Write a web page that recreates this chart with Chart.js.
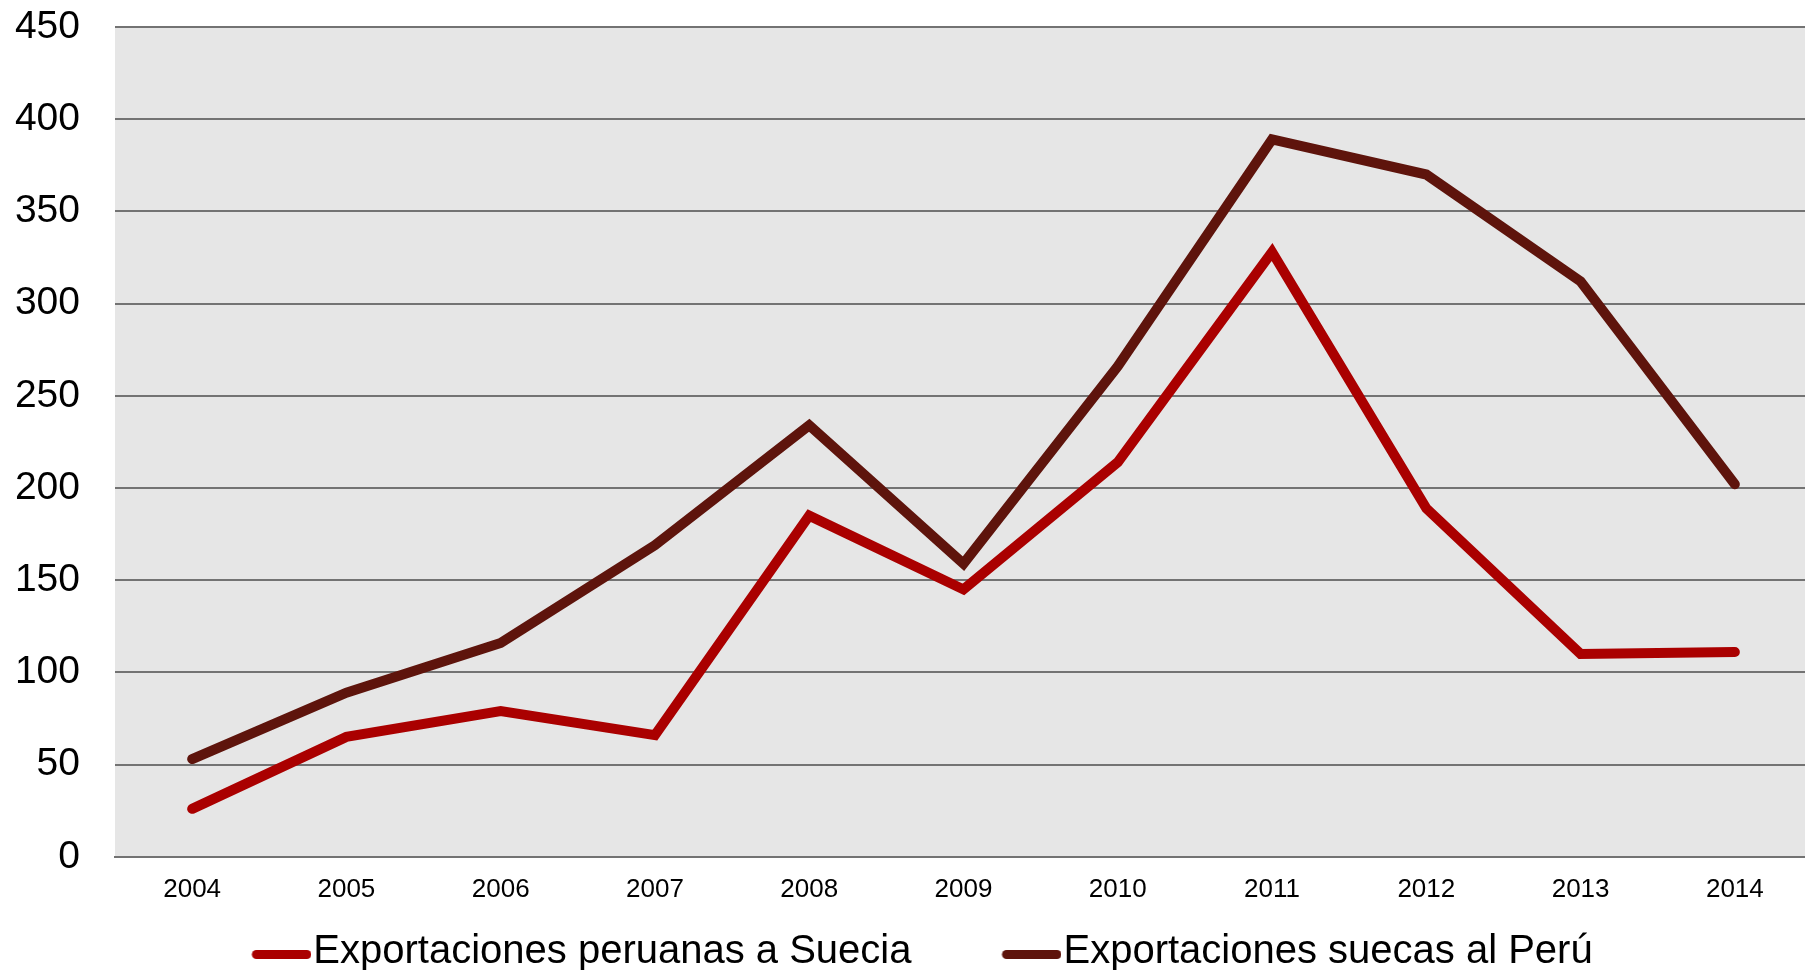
<!DOCTYPE html>
<html>
<head>
<meta charset="utf-8">
<script src="https://cdn.jsdelivr.net/npm/chart.js@4/dist/chart.umd.min.js"></script>
<style>
  html, body { margin: 0; padding: 0; background: #ffffff; overflow: hidden; }
  /* the original chart is a little wider than the picture, so the canvas is shifted left */
  #wrap { position: relative; left: -48px; width: 1860px; height: 982px; }
</style>
</head>
<body>
<div id="wrap"><canvas id="graph"></canvas></div>
<script>
// Years on the x axis
const years = ['2004', '2005', '2006', '2007', '2008', '2009', '2010', '2011', '2012', '2013', '2014'];

// Peruvian exports to Sweden
const exportsPeru = [26, 65, 79, 66, 185, 145, 214, 328, 189, 110, 111];

// Swedish exports to Peru
const exportsSweden = [53, 89, 116, 169, 234, 159, 266, 389, 370, 312, 202];

const seriesNames = ['Exportaciones peruanas a Suecia', 'Exportaciones suecas al Perú'];

const FONT = "'Liberation Sans', Arial, sans-serif";

// Function to paint the grey plot background
const plotBackground = {
    id: 'plotBackground',
    beforeDraw(chart) {
        const { ctx, chartArea } = chart;
        ctx.save();
        ctx.fillStyle = '#e6e6e6';
        ctx.fillRect(chartArea.left, chartArea.top, chartArea.right - chartArea.left, chartArea.bottom - chartArea.top);
        ctx.restore();
    }
};

// Function to build the legend marker: a short thick line sitting right before the text
function legendLine(color) {
    const c = document.createElement('canvas');
    c.width = 158;
    c.height = 16;
    const g = c.getContext('2d');
    g.strokeStyle = color;
    g.lineWidth = 9;
    g.lineCap = 'round';
    g.beginPath();
    g.moveTo(103, 10.5);
    g.lineTo(153.5, 10.5);
    g.stroke();
    return c;
}

function lineDataset(label, values, color) {
    return {
        label: label,
        data: values,
        borderColor: color,
        backgroundColor: color,
        borderWidth: 10,
        borderCapStyle: 'round',
        borderJoinStyle: 'miter',
        pointStyle: legendLine(color),
        pointRadius: 0,
        pointHoverRadius: 0,
        tension: 0,
        fill: false
    };
}

const ctx = document.getElementById('graph').getContext('2d');

window.chart = new Chart(ctx, {
    type: 'line',
    data: {
        labels: years,
        datasets: [
            lineDataset(seriesNames[0], exportsPeru, '#aa0000'),
            lineDataset(seriesNames[1], exportsSweden, '#5e140c')
        ]
    },
    plugins: [plotBackground],
    options: {
        responsive: true,
        maintainAspectRatio: false,
        animation: false,
        layout: { padding: 0 },
        plugins: {
            tooltip: { enabled: false },
            legend: {
                position: 'bottom',
                labels: {
                    color: '#000000',
                    font: { family: FONT, size: 40 },
                    usePointStyle: true,
                    pointStyleWidth: 122,
                    padding: 10
                }
            }
        },
        scales: {
            x: {
                offset: true,
                grid: { display: false, drawTicks: false },
                border: { display: true, color: '#737373', width: 2 },
                ticks: {
                    color: '#000000',
                    font: { family: FONT, size: 26 },
                    padding: 17,
                    maxRotation: 0,
                    autoSkip: false
                }
            },
            y: {
                min: 0,
                max: 450,
                grid: { color: '#737373', lineWidth: 2, drawTicks: false },
                border: { display: false },
                ticks: {
                    stepSize: 50,
                    color: '#000000',
                    font: { family: FONT, size: 39 },
                    padding: 35
                },
                afterFit(axis) {
                    axis.width = 163;
                    axis.paddingTop = 27;
                    axis.paddingBottom = 0;
                }
            }
        }
    }
});
</script>
</body>
</html>
